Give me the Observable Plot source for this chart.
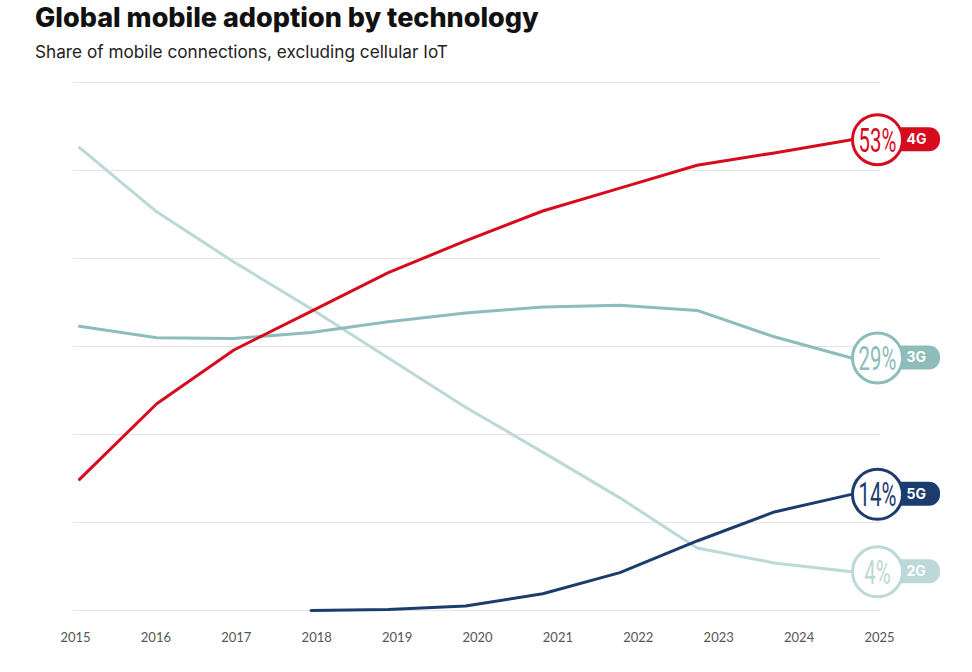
<!DOCTYPE html>
<html><head><meta charset="utf-8">
<script src="https://cdn.jsdelivr.net/npm/d3@7"></script>
<script src="https://cdn.jsdelivr.net/npm/@observablehq/plot@0.6"></script>
<style>
body{margin:0;background:#fff;width:972px;height:672px;overflow:hidden;font-family:Inter, "Open Sans", sans-serif;}
#title{position:absolute;left:35px;top:1px;font-size:27px;font-weight:800;color:#111;white-space:nowrap}
#sub{position:absolute;left:35px;top:41px;font-size:17.2px;color:#222;white-space:nowrap}
#chart{position:absolute;left:0;top:70px}
#axis{position:absolute;left:0;top:622px}
</style></head>
<body>
<div id="title">Global mobile adoption by technology</div>
<div id="sub">Share of mobile connections, excluding cellular IoT</div>
<div id="chart"></div>
<div id="axis"></div>
<script>
const years = [2015, 2016, 2017, 2018, 2019, 2020, 2021, 2022, 2023, 2024, 2025];
const share4G = [14.9, 23.5, 29.6, 34.0, 38.4, 42.0, 45.4, 48.0, 50.6, 52.0, 53.5];
const share3G = [32.3, 31.0, 30.9, 31.6, 32.8, 33.8, 34.5, 34.7, 34.1, 31.1, 28.7];
const share5G = [null, null, null, 0.0, 0.1, 0.5, 1.9, 4.3, 7.9, 11.2, 13.2];
const share2G = [52.6, 45.3, 39.6, 34.3, 28.7, 23.1, 18.0, 12.8, 7.1, 5.4, 4.4];
const techs = ["4G", "3G", "5G", "2G"];
const techColors = ["#d60b1e", "#8dbcba", "#1c3c6d", "#bcd8d7"];
const endLabels = ["53%", "29%", "14%", "4%"];
const gridTicks = [0, 10, 20, 30, 40, 50, 60];

const seriesByTech = {"4G": share4G, "3G": share3G, "5G": share5G, "2G": share2G};
const drawOrder = ["2G", "3G", "5G", "4G"];
const rows = [];
for (const t of drawOrder) {
  seriesByTech[t].forEach((v, i) => { if (v != null) rows.push({tech: t, year: years[i], value: v}); });
}
const ends = techs.map((t, i) => {
  const s = seriesByTech[t];
  return {tech: t, year: years[years.length - 1], value: s[s.length - 1], label: endLabels[i]};
});

const chart = Plot.plot({
  width: 972, height: 552,
  marginTop: 12, marginBottom: 12, marginLeft: 73, marginRight: 92,
  x: {domain: [2015, 2025], range: [79, 851], axis: null},
  y: {domain: [0, 60], axis: null},
  color: {domain: techs, range: techColors},
  style: {background: "transparent"},
  marks: [
    Plot.ruleY(gridTicks, {stroke: "#e4e4e4", strokeWidth: 1}),
    Plot.line(rows, {x: "year", y: "value", z: "tech", stroke: "tech", strokeWidth: 3, curve: "linear"}),
    Plot.rect(ends, {x1: "year", x2: "year", y1: "value", y2: "value", fill: "tech",
      insetLeft: 26, insetRight: -89, insetTop: -12, insetBottom: -12, rx: 11}),
    Plot.dot(ends, {x: "year", y: "value", dx: 26, r: 25, fill: "white", stroke: "tech", strokeWidth: 3}),
    Plot.text(ends, {x: "year", y: "value", dx: 26, dy: 1, text: "label", fill: "tech", fontSize: 34,
      fontFamily: "Roboto", fontWeight: 400}),
    Plot.text(ends, {x: "year", y: "value", dx: 55, text: "tech", fill: "white", fontSize: 14,
      fontWeight: "bold", fontFamily: "Inter", textAnchor: "start"})
  ]
});
// condense the percentage labels horizontally (narrow display face in the reference)
d3.select(chart).selectAll("text").each(function() {
  const s = this.textContent;
  if (!s.endsWith("%")) return;
  const t = this.getAttribute("transform") || "";
  let cx = +(this.getAttribute("x") || 0);
  const m = /translate\(\s*([-\d.e]+)/.exec(t);
  if (m) cx += +m[1];
  this.setAttribute("transform", `translate(${cx},0) scale(0.6,1) translate(${-cx},0) ${t}`);
});
document.getElementById("chart").append(chart);

const axis = Plot.plot({
  width: 972, height: 40,
  marginTop: 0, marginBottom: 40, marginLeft: 73, marginRight: 92,
  x: {domain: [2015, 2025], range: [75, 879]},
  marks: [
    Plot.axisX(years, {anchor: "bottom", tickSize: 0, tickPadding: 10, tickFormat: d => String(d),
      fontSize: 13, fill: "#555", fontFamily: "Lato", label: null})
  ]
});
document.getElementById("axis").append(axis);
</script>
</body></html>
